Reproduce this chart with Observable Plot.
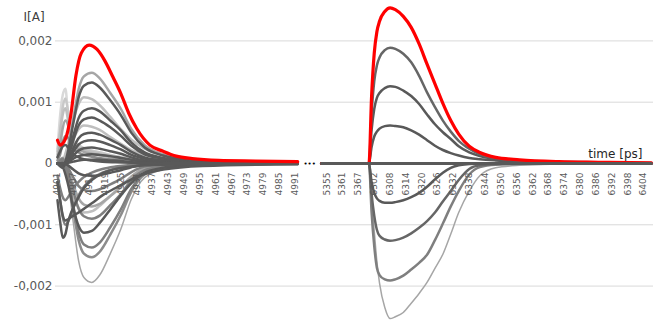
<!DOCTYPE html>
<html><head><meta charset="utf-8">
<script src="https://cdn.jsdelivr.net/npm/d3@7"></script>
<script src="https://cdn.jsdelivr.net/npm/@observablehq/plot@0.6"></script>
<style>body{margin:0;background:#fff;}</style>
</head><body><div id="chart"></div>
<script>
// ---- x sample positions (category index along the broken time axis) ----
const xLeftRed   = [0, 1, 3, 5, 7, 9, 12, 15, 18, 21, 24, 27, 30, 35, 40, 45, 51, 61, 75, 91];
const xLeftLate  = [0, 2, 4, 6, 8, 10, 13, 16, 20, 24, 28, 33, 40, 50, 65, 91];
const xLeftEarly = [0, 1, 2, 3, 4, 5, 6, 8, 10, 13, 17, 22, 30, 40, 55, 91];
const xRight     = [100, 118, 119, 120, 121, 122, 124, 126, 128, 131, 134, 137, 140, 143, 146, 149, 152, 156, 160, 166, 175, 190, 205, 225];

// ---- tick labels ----
const tickIndex  = [0, 6, 12, 18, 24, 30, 36, 42, 48, 54, 60, 66, 72, 78, 84, 90,
                    102, 108, 114, 120, 126, 132, 138, 144, 150, 156, 162, 168, 174, 180, 186, 192, 198, 204, 210, 216, 222];
const tickLabels = ["4901","4907","4913","4919","4925","4931","4937","4943","4949","4955","4961","4967","4973","4979","4985","4991",
                    "5355","5361","5367","6302","6308","6314","6320","6326","6332","6338","6344","6350","6356","6362","6368","6374","6380","6386","6392","6398","6404"];
const yTicks = [-0.002, -0.001, 0, 0.001, 0.002];

// ---- current values I [A] ----
// left window: red reference
const redLeft = [.00038, .0003, .0004, .00078, .00144, .0018, .00193, .00186, .00167, .00141, .00114, .00082, .00057, .0003, .0002, .00012, .00008, .00005, .00004, .00003];
// left window: late pulses
const L2  = [0, -.00007, .00022, .00074, .00121, .00142, .00148, .00139, .00115, .00089, .00056, .0003, .00015, .00007, .00004, .00002];
const L3  = [0, -.00007, .0002, .00066, .00108, .00127, .00132, .00124, .00103, .00079, .0005, .00026, .00013, .00006, .00003, .00002];
const L4  = [0, .00005, .00032, .0007, .00097, .00108, .00105, .00095, .00076, .00056, .00039, .00024, .00013, .00006, .00003, .00002];
const L5  = [0, -.00005, .00014, .00045, .00074, .00086, .0009, .00085, .0007, .00054, .00034, .00018, .00009, .00004, .00002, .00001];
const L6  = [0, -.00004, .00011, .00038, .00062, .00072, .00075, .0007, .00059, .00045, .00029, .00015, .00008, .00003, .00002, .00001];
const L7  = [0, .00003, .00019, .0004, .00056, .00062, .0006, .00055, .00043, .00032, .00022, .00014, .00007, .00004, .00002, .00001];
const L8  = [0, -.00003, .00008, .00025, .00041, .00048, .0005, .00047, .00039, .0003, .00019, .0001, .00005, .00002, .00001, .00001];
const L9  = [0, -.00002, .00006, .00019, .00031, .00036, .00038, .00036, .0003, .00023, .00014, .00008, .00004, .00002, .00001, 0];
const L10 = [0, -.00001, .00004, .00013, .00021, .00025, .00026, .00024, .0002, .00016, .0001, .00005, .00003, .00001, .00001, 0];
const L11 = [0, -.00001, .00002, .00008, .00012, .00014, .00015, .00014, .00012, .00009, .00006, .00003, .00002, .00001, 0, 0];
const L12 = [0, 0, .00001, .00003, .00005, .00006, .00006, .00006, .00005, .00004, .00002, .00001, .00001, 0, 0, 0];
const L13 = [0, .00001, -.00003, -.0001, -.00016, -.00019, -.0002, -.00019, -.00015, -.00011, -.00006, -.00002, -.00001, 0, 0, 0];
const L14 = [0, .00002, -.00007, -.00023, -.00037, -.00043, -.00045, -.00042, -.00034, -.00025, -.00014, -.00005, -.00002, -.00001, 0, 0];
const L15 = [0, .00004, -.00011, -.00035, -.00057, -.00067, -.0007, -.00066, -.00053, -.00039, -.00021, -.00008, -.00004, -.00001, -.00001, 0];
const L16 = [0, -.00004, -.00024, -.00052, -.00072, -.0008, -.00078, -.00069, -.00053, -.00037, -.00022, -.0001, -.00005, -.00002, -.00001, 0];
const L17 = [0, .00005, -.00014, -.00045, -.00074, -.00086, -.0009, -.00085, -.00068, -.0005, -.00027, -.00011, -.00005, -.00002, -.00001, 0];
const L18 = [0, -.00006, -.00034, -.00073, -.00102, -.00113, -.0011, -.00097, -.00075, -.00052, -.00032, -.00015, -.00007, -.00003, -.00001, -.00001];
const L19 = [0, .00007, -.00021, -.00069, -.00112, -.00132, -.00137, -.00129, -.00104, -.00075, -.00041, -.00016, -.00007, -.00003, -.00001, -.00001];
const L20 = [0, .00008, -.00023, -.00077, -.00125, -.00147, -.00153, -.00144, -.00116, -.00084, -.00046, -.00018, -.00008, -.00003, -.00002, -.00001];
const L21 = [0, .0001, -.00029, -.00097, -.00159, -.00186, -.00194, -.00182, -.00147, -.00107, -.00058, -.00023, -.0001, -.00004, -.00002, -.00001];
// left window: early (narrow) pulses
const E1  = [.00024, .00079, .00112, .00122, .00079, .00049, .00037, .00029, .00024, .00021, .00017, .00012, .00007, .00004, .00002, .00001];
const E2  = [.0002, .00055, .00092, .00106, .00085, .00052, .00038, .0003, .00025, .00021, .00017, .00012, .00007, .00004, .00002, .00001];
const E3  = [.00015, .0005, .0008, .0009, .0007, .00045, .00033, .00026, .00022, .00019, .00015, .00011, .00006, .00003, .00002, .00001];
const E4  = [.0001, .0003, .00058, .0007, .00062, .00042, .0003, .00023, .00019, .00016, .00013, .00009, .00005, .00003, .00001, 0];
const E5  = [.00005, .00015, .00035, .00045, .00042, .00032, .00024, .00018, .00014, .00011, .00008, .00006, .00003, .00002, .00001, 0];
const E6  = [-.0006, -.00095, -.00121, -.00115, -.00095, -.00082, -.00072, -.00055, -.0004, -.00027, -.00016, -.00009, -.00004, -.00002, -.00001, 0];
const E7  = [-.0003, -.0006, -.00088, -.001, -.00095, -.00085, -.00072, -.00052, -.00038, -.00025, -.00015, -.00008, -.00004, -.00002, -.00001, 0];
const E8  = [-.0003, -.0006, -.00085, -.00093, -.00091, -.00088, -.00085, -.0008, -.00074, -.00065, -.00052, -.0004, -.00022, -.0001, -.00004, -.00001];
const E9  = [-.0002, -.0004, -.00055, -.0006, -.00055, -.00048, -.0004, -.0003, -.00022, -.00015, -.00009, -.00005, -.00002, -.00001, 0, 0];
const E10 = [.0001, .0002, .00028, .0003, .00026, .0002, .00015, .0001, .00007, .00005, .00003, .00002, .00001, 0, 0, 0];
// right window
const redRight = [0, 0, .0011, .0018, .00215, .00232, .00248, .00254, .00251, .0024, .00222, .00195, .00162, .0013, .00098, .0007, .00048, .00028, .00018, .0001, .00006, .00003, .00002, .00001];
const G1 = [0, 0, .00082, .00134, .0016, .00173, .00185, .00189, .00187, .00179, .00165, .00143, .00116, .00092, .0007, .00052, .00037, .00024, .00015, .00009, .00005, .00003, .00002, .00001];
const G2 = [0, 0, .00055, .00089, .00107, .00115, .00123, .00126, .00125, .00119, .0011, .00097, .0008, .00064, .00051, .0004, .00028, .00018, .00012, .00007, .00004, .00002, .00001, 0];
const G3 = [0, 0, .00027, .00044, .00052, .00057, .00061, .00062, .00061, .00059, .00054, .00047, .00038, .00029, .00022, .00017, .00013, .00009, .00007, .00005, .00003, .00002, .00001, 0];
const Z0 = [0, 0, 0, 0, 0, 0, 0, 0, 0, 0, 0, 0, 0, 0, 0, 0, 0, 0, 0, 0, 0, 0, 0, 0];
const N1 = [0, 0, -.0003, -.00048, -.00057, -.00061, -.00064, -.00064, -.00063, -.0006, -.00055, -.00048, -.00038, -.00026, -.00015, -.00007, -.00003, -.00001, 0, 0, 0, 0, 0, 0];
const N2 = [0, 0, -.0005, -.00085, -.00108, -.00118, -.00124, -.00126, -.00125, -.00121, -.00114, -.00105, -.00094, -.0008, -.00062, -.00045, -.00027, -.00009, -.00003, -.00001, 0, 0, 0, 0];
const N3 = [0, 0, -.0008, -.00135, -.0017, -.00182, -.00189, -.00191, -.00189, -.00183, -.00173, -.00162, -.00149, -.00125, -.00098, -.0007, -.00045, -.00018, -.00006, -.00002, -.00001, 0, 0, 0];
const N4 = [0, 0, -.0006, -.0011, -.0016, -.00195, -.00235, -.00253, -.0025, -.00243, -.00228, -.00212, -.00194, -.00171, -.00148, -.00115, -.0008, -.00045, -.0002, -.00007, -.00003, -.00001, 0, 0];

// ---- drawing order and styles ----
const LIGHT1 = "#d9d9d9", LIGHT2 = "#c8c8c8", LIGHT3 = "#bfbfbf", MID1 = "#a6a6a6", MID2 = "#8c8c8c", MID3 = "#7f7f7f", DARK = "#595959", DARK2 = "#666666";
const series = [
  [xLeftEarly, E1, LIGHT1, 2.5], [xLeftEarly, E2, LIGHT2, 2.5], [xLeftEarly, E3, LIGHT3, 2.5],
  [xLeftLate, L4, LIGHT3, 2.5], [xLeftLate, L7, LIGHT3, 2.5], [xLeftLate, L16, LIGHT3, 2.5],
  [xLeftEarly, E4, MID1, 2.5], [xLeftLate, L2, MID1, 2.5], [xLeftLate, L15, MID1, 2.5], [xLeftLate, L21, MID1, 1.5],
  [xLeftEarly, E5, MID2, 2.5], [xLeftLate, L20, MID2, 2.5],
  [xLeftLate, L14, MID3, 2.5], [xLeftLate, L17, MID3, 2.5], [xLeftLate, L19, MID3, 2.5], [xLeftEarly, E7, MID3, 2.5], [xLeftEarly, E9, MID3, 2.5],
  [xLeftLate, L3, DARK, 2.5], [xLeftLate, L5, DARK, 2.5], [xLeftLate, L6, DARK, 2.5], [xLeftLate, L8, DARK, 2.5],
  [xLeftLate, L9, DARK, 2.5], [xLeftLate, L10, DARK, 2.5], [xLeftLate, L11, DARK, 2.5], [xLeftLate, L12, DARK, 2.5],
  [xLeftLate, L13, DARK, 2.5], [xLeftLate, L18, DARK, 2.5],
  [xLeftEarly, E6, DARK, 2.5], [xLeftEarly, E8, DARK, 2.5], [xLeftEarly, E10, DARK, 2.5],
  [xLeftRed, redLeft, "#ff0000", 3.2],
  [xRight, N4, MID1, 1.5], [xRight, N3, MID3, 2.5], [xRight, N2, DARK2, 2.5], [xRight, N1, DARK, 2.5],
  [xRight, G3, DARK, 2.5], [xRight, G2, DARK, 2.5], [xRight, G1, DARK2, 2.5],
  [xRight, redRight, "#ff0000", 3.2],
  [xRight, Z0, DARK, 3.2]
];

const marks = [Plot.ruleY(yTicks.filter(d => d !== 0), {stroke: "#d9d9d9", strokeWidth: 1})];
for (const [xs, ys, color, w] of series) {
  const rows = xs.map((x, i) => ({x, y: ys[i]}));
  marks.push(Plot.line(rows, {x: "x", y: "y", stroke: color, strokeWidth: w, curve: "monotone-x"}));
}
const tickRows = tickIndex.map((x, i) => ({x, label: tickLabels[i]}));
marks.push(Plot.text(tickRows, {x: "x", y: () => 0, text: "label", rotate: -90, textAnchor: "end", lineAnchor: "middle", dy: 9, fontSize: 9, fill: "#595959"}));
marks.push(Plot.text(["•••"], {x: () => (xLeftLate[xLeftLate.length - 1] + xRight[0]) / 2, y: () => 0, text: d => d, fontSize: 7, fill: "#000", lineAnchor: "middle"}));
marks.push(Plot.text(["I[A]"], {frameAnchor: "top-left", text: d => d, textAnchor: "start", lineAnchor: "middle", dx: -32, dy: 17, fontSize: 12, fill: "#404040"}));
marks.push(Plot.text(["time [ps]"], {frameAnchor: "top-right", text: d => d, textAnchor: "end", lineAnchor: "middle", dx: -11, dy: 154, fontSize: 12, fill: "#262626"}));

const chart = Plot.plot({
  width: 670, height: 322,
  marginLeft: 55, marginRight: 17, marginTop: 0, marginBottom: 0,
  x: {domain: [-0.76, 225.8], axis: null},
  y: {domain: [-0.002594, 0.002659], ticks: yTicks, tickFormat: d => String(d).replace(".", ","), tickSize: 0, tickPadding: 3, label: null},
  style: {fontFamily: "DejaVu Sans", fontSize: "12px", background: "white", color: "#595959", overflow: "visible"},
  marks
});
document.getElementById("chart").appendChild(chart);
</script>
</body></html>
